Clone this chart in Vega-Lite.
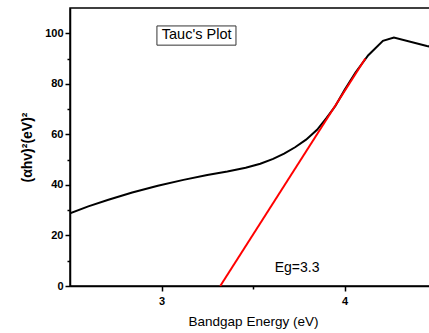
{
  "$schema": "https://vega.github.io/schema/vega-lite/v6.json",
  "width": 366,
  "height": 278,
  "padding": {"left": 20, "top": 8, "right": 0, "bottom": 5},
  "config": {
    "font": "Liberation Sans",
    "view": {"stroke": "black", "strokeWidth": 1.5},
    "axis": {"grid": false, "domainColor": "black", "tickColor": "black", "labelColor": "black", "titleColor": "black", "domainWidth": 1.5, "tickWidth": 1.5}
  },
  "datasets": {
    "curve": [
      {"e": 2.50, "v": 28.8},
      {"e": 2.60, "v": 31.5},
      {"e": 2.71, "v": 34.1},
      {"e": 2.84, "v": 37.0},
      {"e": 2.98, "v": 39.7},
      {"e": 3.12, "v": 42.0},
      {"e": 3.25, "v": 43.9},
      {"e": 3.36, "v": 45.3},
      {"e": 3.46, "v": 46.8},
      {"e": 3.54, "v": 48.4},
      {"e": 3.61, "v": 50.3},
      {"e": 3.67, "v": 52.4},
      {"e": 3.73, "v": 54.9},
      {"e": 3.79, "v": 57.9},
      {"e": 3.85, "v": 61.8},
      {"e": 3.90, "v": 66.3},
      {"e": 3.95, "v": 71.2},
      {"e": 4.00, "v": 77.5},
      {"e": 4.06, "v": 84.5},
      {"e": 4.13, "v": 91.3},
      {"e": 4.21, "v": 97.0},
      {"e": 4.27, "v": 98.3},
      {"e": 4.45, "v": 95.0},
      {"e": 4.50, "v": 94.2}
    ],
    "fit": [
      {"e": 3.321, "v": 0},
      {"e": 4.114, "v": 90}
    ],
    "box": [{"x1": 2.975, "x2": 3.407, "y1": 95.3, "y2": 102.9}],
    "labels": [
      {"e": 3.192, "v": 99.2, "t": "Tauc's Plot", "s": 14.5},
      {"e": 3.741, "v": 7.1, "t": "Eg=3.3", "s": 14}
    ]
  },
  "resolve": {"axis": {"x": "independent", "y": "independent"}},
  "layer": [
    {
      "data": {"name": "curve"},
      "mark": {"type": "line", "color": "black", "strokeWidth": 2, "interpolate": "linear", "clip": true},
      "encoding": {
        "x": {"field": "e", "type": "quantitative", "scale": {"domain": [2.5, 4.5], "nice": false},
          "axis": {"orient": "bottom", "values": [3, 4], "tickSize": 5, "labelFontSize": 11, "labelFontWeight": "bold", "labelPadding": 4,
            "title": "Bandgap Energy (eV)", "titleFontSize": 13.5, "titleFontWeight": "normal", "titlePadding": 8}},
        "y": {"field": "v", "type": "quantitative", "scale": {"domain": [0, 110], "nice": false},
          "axis": {"orient": "left", "values": [0, 20, 40, 60, 80, 100], "tickSize": 5, "labelFontSize": 11, "labelFontWeight": "bold", "labelPadding": 2,
            "title": "(αhv)²(eV)²", "titleFontSize": 14, "titleFontWeight": "bold", "titlePadding": 10}}
      }
    },
    {
      "data": {"name": "fit"},
      "mark": {"type": "line", "color": "#ff0000", "strokeWidth": 2},
      "encoding": {
        "x": {"field": "e", "type": "quantitative",
          "axis": {"orient": "bottom", "values": [3.5], "tickSize": 3, "labels": false, "domain": false, "title": null}},
        "y": {"field": "v", "type": "quantitative",
          "axis": {"orient": "left", "values": [10, 30, 50, 70, 90], "tickSize": 3, "labels": false, "domain": false, "title": null}}
      }
    },
    {
      "data": {"name": "box"},
      "mark": {"type": "rect", "fill": "white", "stroke": "#333333", "strokeWidth": 1},
      "encoding": {
        "x": {"field": "x1", "type": "quantitative", "axis": null},
        "x2": {"field": "x2"},
        "y": {"field": "y1", "type": "quantitative", "axis": null},
        "y2": {"field": "y2"}
      }
    },
    {
      "data": {"name": "labels"},
      "mark": {"type": "text", "color": "black", "baseline": "middle", "align": "center"},
      "encoding": {
        "x": {"field": "e", "type": "quantitative", "axis": null},
        "y": {"field": "v", "type": "quantitative", "axis": null},
        "text": {"field": "t"},
        "size": {"field": "s", "type": "quantitative", "scale": null}
      }
    }
  ]
}
